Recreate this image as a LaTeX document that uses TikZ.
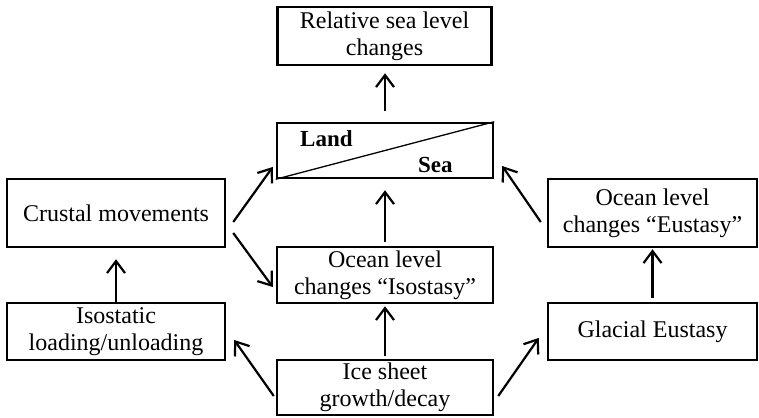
\documentclass[tikz,border=0pt]{standalone}
\usepackage{fontspec}
\setmainfont{Liberation Serif}
\usetikzlibrary{arrows.meta,calc}
\tikzset{
  box/.style={draw, line width=2.5pt, align=center, inner sep=0pt,
    font=\fontsize{24}{27}\selectfont},
  arr/.style={line width=2.2pt, -{Straight Barb[length=12pt,width=18pt]}},
  lbl/.style={font=\fontsize{23}{27}\selectfont\bfseries, inner sep=0pt, anchor=base west}
}
\begin{document}
\begin{tikzpicture}[x=1pt,y=1pt]
\useasboundingbox (0,0) rectangle (759,417);
% boxes
\node[box, minimum width=214, minimum height=58] (rel) at (384.5,381) {Relative sea level\\changes};
\node[box, minimum width=216, minimum height=55] (land) at (385,266.5) {};
\draw[line width=1.3pt] (land.south west) -- (land.north east);
\node[lbl] (landtxt) at (300,270) {Land};
\node[lbl] (seatxt) at (418,244) {Sea};
\node[box, minimum width=216, minimum height=56] (iso) at (385,142) {Ocean level\\changes “Isostasy”};
\node[box, minimum width=216, minimum height=55] (ice) at (385,29.5) {Ice sheet\\growth/decay};
\node[box, minimum width=218, minimum height=68] (crust) at (116,204) {Crustal movements};
\node[box, minimum width=218, minimum height=57] (isol) at (116,85.5) {Isostatic\\loading/unloading};
\node[box, minimum width=209, minimum height=68] (eus) at (652.5,204) {Ocean level\\changes “Eustasy”};
\node[box, minimum width=209, minimum height=57] (glac) at (652.5,85.5) {Glacial Eustasy};
% vertical arrows
\draw[arr] ($(land.north)+(0,11)$) -- ($(land.north |- rel.south)+(0,-7)$);
\draw[arr] ($(iso.north)+(0,4)$) -- ($(land.south)+(0,-11)$);
\draw[arr] ($(ice.north)+(0,3)$) -- ($(iso.south)+(0,-2)$);
\draw[arr] (isol.north) -- ($(crust.south)+(0,-11)$);
\draw[arr] ($(glac.north)+(0,4)$) -- ($(eus.south)+(0,-1)$);
% diagonal arrows
\draw[arr] ($(crust.east)+(7,-9)$) -- ($(land.west)+(-3,-16.5)$);
\draw[arr] ($(crust.east)+(7,-20)$) -- ($(iso.west)+(-3,-12)$);
\draw[arr] ($(ice.west)+(-2,-8.5)$) -- ($(isol.east)+(8,-8.5)$);
\draw[arr] ($(ice.east)+(4,-8.5)$) -- ($(glac.west)+(-8,-6.5)$);
\draw[arr] ($(eus.west)+(-6,-9)$) -- ($(land.east)+(8,-15.5)$);
\end{tikzpicture}
\end{document}
